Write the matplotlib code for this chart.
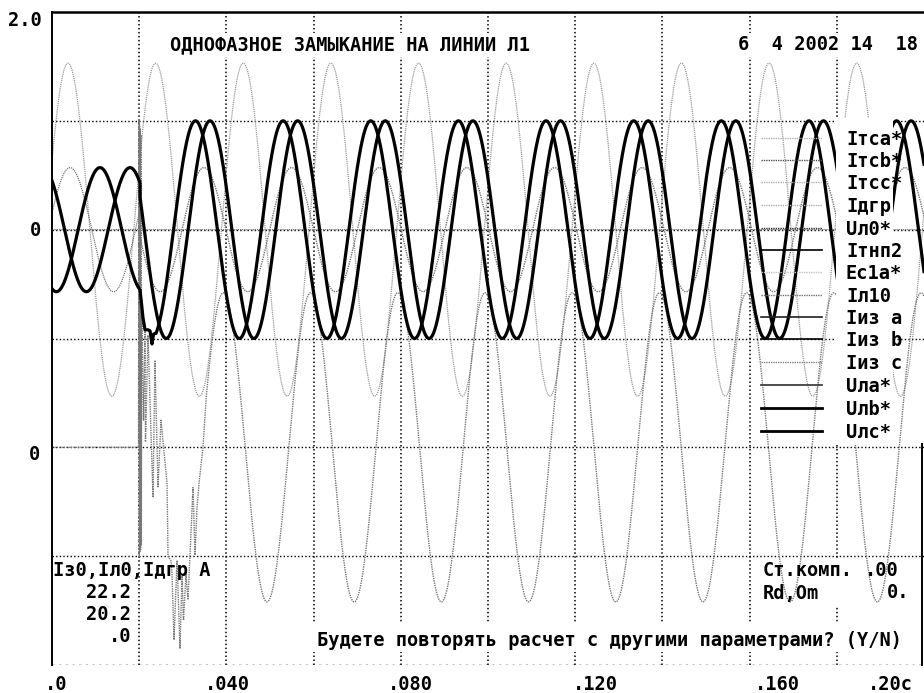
import matplotlib
matplotlib.use("Agg")
import matplotlib.pyplot as plt
import numpy as np
from matplotlib.patches import Rectangle

# --- values ---
# time base (s) and fault moment
period_pre = 0.0200
period_post = 0.0201
t_fault = 0.0202
t_end = 0.2

# band centres (grid units, 1 unit = one grid cell)
upper_zero = 4.0
lower_zero = 2.0

# pre-fault phase voltages: amplitude and time of a peak
pre_amp = 0.57
pre_peak_a = 0.00413
pre_peak_b = 0.0110
pre_peak_c = 0.01789

# post-fault healthy phase voltages
post_amp = 1.0
post_peak_b = 0.03291
post_peak_c = 0.03624

# zero sequence voltage after the fault
u0_amp = 0.57
u0_peak = 0.03486

# large grey trace of the upper band
big_amp = 1.53
big_peak = 0.00367

# zero sequence current, lower band
i0_amp = 1.42
i0_peak = 0.01931
i0_period = 0.0200

# ragged trough of phase b just after the fault
jag_t = [0.02087, 0.02133, 0.02202, 0.02248, 0.02294, 0.02328, 0.02385]
jag_y = [3.19, 3.08, 3.08, 3.07, 2.95, 3.04, 3.05]

# current transient at the fault moment
i0_tr_t = [0.01985, 0.01993, 0.02001, 0.02009, 0.02017, 0.02025, 0.02033,
           0.02041, 0.02049, 0.02057, 0.02099, 0.02133, 0.02144, 0.02202,
           0.02317, 0.02362, 0.02431, 0.02500, 0.02638, 0.02661, 0.02729,
           0.02752, 0.02798, 0.02867, 0.02936, 0.02982, 0.03016, 0.03073,
           0.03119, 0.03165, 0.03234, 0.03280, 0.03326, 0.03372, 0.03463,
           0.03532]
i0_tr_y = [2.00, 5.01, 1.00, 4.96, 1.04, 4.92, 1.06, 4.87, 1.10, 3.35,
           2.25, 3.08, 2.05, 3.03, 1.54, 2.80, 1.63, 2.25, 1.67, 1.00,
           0.96, 0.84, 0.23, 0.96, 0.15, 0.83, 0.41, 0.83, 0.60, 1.01,
           1.63, 1.01, 1.45, 1.67, 2.00, 2.43]

# legend
legend_names = ["Iтca*", "Iтcb*", "Iтcc*", "Iдгр", "Uл0*", "Iтнп2", "Ec1a*",
                "Iл10", "Iиз a", "Iиз b", "Iиз c", "Uлa*", "Uлb*", "Uлc*"]
legend_rows = [4.842, 4.640, 4.438, 4.226, 4.015, 3.813, 3.610,
               3.399, 3.197, 2.994, 2.783, 2.572, 2.360, 2.149]

xtick_labels = [".0", ".040", ".080", ".120", ".160", ".20с"]
title_text = "ОДНОФАЗНОЕ ЗАМЫКАНИЕ НА ЛИНИИ Л1"
date_text = "6  4 2002 14  18"


def wave(t, amp, peak, period, centre):
    return centre + amp * np.cos(2 * np.pi * (t - peak) / period)


plt.rcParams['font.family'] = ['DejaVu Sans Mono']
plt.rcParams['font.weight'] = 'bold'
FS = 13.4

W, H = 924, 693
fig = plt.figure(figsize=(W / 100, H / 100), dpi=100)
ax = fig.add_axes([52 / W, 28 / H, 872 / W, 653 / H])
ax.set_xlim(0, t_end)
ax.set_ylim(0, 6)
ax.axis('off')

def fx(px):
    return px / W

def fy(py):
    return 1 - py / H

# frame
ax.plot([0, t_end], [6, 6], color='k', lw=1.8, clip_on=False, zorder=6)
ax.plot([0, 0], [0, 6], color='k', lw=1.4, clip_on=False, zorder=6)
ax.plot([0.1995, 0.1995], [0, 2.03], color='k', lw=1.4, clip_on=False, zorder=6)
ax.plot([0, t_end], [0.005, 0.005], color='#c8c8c8', lw=0.8,
        linestyle=(0, (2, 4)), clip_on=False, zorder=1)

# dotted grid
grid_ls = (0, (1, 1.6))
for k in range(1, 10):
    ax.plot([0.02 * k, 0.02 * k], [0, 6], color='k', lw=1.1, linestyle=grid_ls, zorder=1)
for k in range(1, 6):
    ax.plot([0, t_end], [k, k], color='k', lw=1.0, linestyle=grid_ls, zorder=1)

# blank areas behind text blocks (grid only)
ax.add_patch(Rectangle((fx(312), fy(652)), fx(913) - fx(312), fy(622) - fy(652),
                       transform=fig.transFigure, facecolor='white',
                       edgecolor='none', zorder=1.5))
ax.add_patch(Rectangle((fx(757), fy(607)), fx(912) - fx(757), fy(558) - fy(607),
                       transform=fig.transFigure, facecolor='white',
                       edgecolor='none', zorder=1.5))

# signals
t_pre = np.linspace(0, t_fault, 300)
t_post = np.linspace(t_fault, t_end, 3000)
t_all = np.linspace(0, t_end, 3000)

gray_ls = (0, (1.0, 0.7))
light = '#9a9a9a'
mid = '#787878'

# large grey trace
ax.plot(t_all, wave(t_all, big_amp, big_peak, period_post, upper_zero),
        color=light, lw=0.9, linestyle=gray_ls, zorder=2)

# faulted phase voltage: drops to zero
ax.plot(np.concatenate([t_pre, t_post]),
        np.concatenate([wave(t_pre, pre_amp, pre_peak_a, period_pre, upper_zero),
                        np.full_like(t_post, upper_zero)]),
        color=mid, lw=0.9, linestyle=gray_ls, zorder=2)

# zero sequence voltage
ax.plot(np.concatenate([t_pre, t_post]),
        np.concatenate([np.full_like(t_pre, upper_zero),
                        wave(t_post, u0_amp, u0_peak, period_post, upper_zero)]),
        color=mid, lw=1.0, linestyle=gray_ls, zorder=2)

# zero sequence current
i0_t0 = np.linspace(0, i0_tr_t[0], 100)
i0_t1 = t_all[t_all > i0_tr_t[-1]]
ax.plot(np.concatenate([i0_t0, i0_tr_t, i0_t1]),
        np.concatenate([np.full_like(i0_t0, lower_zero), i0_tr_y,
                        wave(i0_t1, i0_amp, i0_peak, i0_period, lower_zero)]),
        color=mid, lw=1.0, linestyle=gray_ls, zorder=2)

# healthy phase voltages (thick)
tb_post = t_post[t_post > jag_t[-1]]
ax.plot(np.concatenate([t_pre, jag_t, tb_post]),
        np.concatenate([wave(t_pre, pre_amp, pre_peak_b, period_pre, upper_zero),
                        jag_y,
                        wave(tb_post, post_amp, post_peak_b, period_post, upper_zero)]),
        color='k', lw=2.3, zorder=2.5)
ax.plot(np.concatenate([t_pre, t_post]),
        np.concatenate([wave(t_pre, pre_amp, pre_peak_c, period_pre, upper_zero),
                        wave(t_post, post_amp, post_peak_c, period_post, upper_zero)]),
        color='k', lw=2.3, zorder=2.5)

# legend block
ax.add_patch(Rectangle((0.1798, 2.03), 0.1929 - 0.1798, 5.03 - 2.03,
                       facecolor='white', edgecolor='none', zorder=3))
legend_styles = [
    ('#b0b0b0', 1.0, gray_ls), ('#505050', 1.0, gray_ls), ('#b0b0b0', 1.0, gray_ls),
    ('#b0b0b0', 1.0, gray_ls), ('#303030', 1.0, gray_ls), ('k', 1.2, '-'),
    ('#c4c4c4', 1.0, gray_ls), ('#707070', 1.0, gray_ls), ('#202020', 1.2, '-'),
    ('k', 1.2, '-'), ('#808080', 1.0, gray_ls), ('#404040', 1.3, '-'),
    ('k', 2.0, '-'), ('k', 2.0, '-')]
for name, row, (c, lw, ls) in zip(legend_names, legend_rows, legend_styles):
    ax.plot([0.1626, 0.1766], [row, row], color=c, lw=lw, linestyle=ls, zorder=4)
    ax.text(0.1821, row - 0.015, name, fontsize=FS, va='center', ha='left', zorder=5)

# texts
bg = dict(facecolor='white', edgecolor='none', pad=1.5)
fig.text(fx(170), fy(45), title_text, fontsize=FS, va='center', ha='left', bbox=bg, zorder=5)
fig.text(fx(738), fy(45), date_text, fontsize=FS, va='center', ha='left', bbox=bg, zorder=5)

fig.text(fx(8), fy(20), "2.0", fontsize=FS, va='center', ha='left')
fig.text(fx(41), fy(230), "0", fontsize=FS, va='center', ha='right')
fig.text(fx(40), fy(455), "0", fontsize=FS, va='center', ha='right')

fig.text(fx(53), fy(570), "Iз0,Iл0,Iдгр A", fontsize=FS, va='center', ha='left', zorder=5)
for s, py in zip(["22.2", "20.2", ".0"], [592, 614, 636]):
    fig.text(fx(131), fy(py), s, fontsize=FS, va='center', ha='right', zorder=5)

fig.text(fx(763), fy(570), "Ст.комп.", fontsize=FS, va='center', ha='left', zorder=5)
fig.text(fx(899), fy(570), ".00", fontsize=FS, va='center', ha='right', zorder=5)
fig.text(fx(763), fy(593), "Rd,Om", fontsize=FS, va='center', ha='left', zorder=5)
fig.text(fx(909), fy(593), "0.", fontsize=FS, va='center', ha='right', zorder=5)

fig.text(fx(317), fy(640), "Будете повторять расчет с другими параметрами? (Y/N)",
         fontsize=FS, va='center', ha='left', zorder=5)

for lab, px in zip(xtick_labels, [45, 205, 388, 573, 755, 868]):
    fig.text(fx(px), fy(684), lab, fontsize=FS, va='center', ha='left')

fig.savefig("out.png", dpi=100)
